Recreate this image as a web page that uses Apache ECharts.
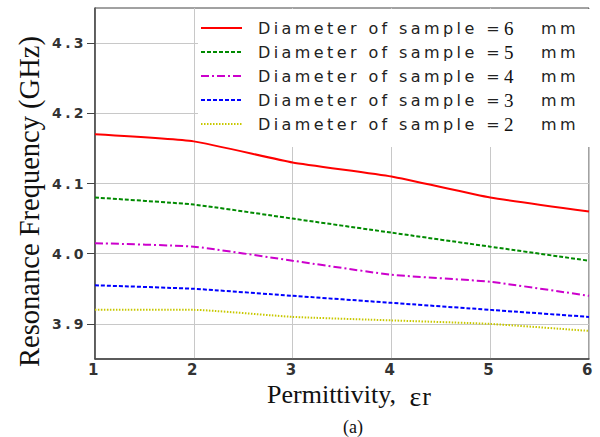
<!DOCTYPE html>
<html><head><meta charset="utf-8">
<script src="https://cdn.jsdelivr.net/npm/echarts@6/dist/echarts.min.js"></script>
<style>
html,body{margin:0;padding:0;background:#fff}
#chart{width:600px;height:437px}
/* wide, airy sans labels */
#chart text[style*="DejaVu"]{letter-spacing:3.4px}
</style></head><body><div id="chart"></div>
<script>
// Resonance frequency (GHz) against relative permittivity for several sample diameters
const permittivity = [1, 2, 3, 4, 5, 6];
const diameters = [6, 5, 4, 3, 2];
const freq6mm = [4.17, 4.16, 4.13, 4.11, 4.08, 4.06];
const freq5mm = [4.08, 4.07, 4.05, 4.03, 4.01, 3.99];
const freq4mm = [4.015, 4.01, 3.99, 3.97, 3.96, 3.94];
const freq3mm = [3.955, 3.95, 3.94, 3.93, 3.92, 3.91];
const freq2mm = [3.92, 3.92, 3.91, 3.905, 3.90, 3.89];
const yTicks = [3.9, 4.0, 4.1, 4.2, 4.3];

const seriesValues = [freq6mm, freq5mm, freq4mm, freq3mm, freq2mm];
const lineStyles = [
  { color: '#ff0000', width: 2, type: 'solid' },
  { color: '#008a00', width: 2, type: [4, 2] },
  { color: '#cc00cc', width: 2, type: [8, 3, 2, 3] },
  { color: '#0000ff', width: 2, type: [4, 2] },
  { color: '#c8c800', width: 2, type: [1.5, 1.5] }
];

const seriesName = d => 'Diameter of sample =' + d + ' mm';

const chart = echarts.init(document.getElementById('chart'), null, { renderer: 'svg' });
chart.setOption({
  animation: false,
  backgroundColor: '#fff',
  title: {
    text: '(a)', left: 338, top: 413,
    textStyle: { fontFamily: 'Liberation Serif', fontSize: 18, fontWeight: 'normal', color: '#111' }
  },
  grid: { left: 95, right: 11, top: 8, bottom: 78, show: true, borderColor: '#444', borderWidth: 1 },
  legend: {
    orient: 'vertical', left: 198, top: 9, z: 1,
    backgroundColor: '#fff', borderWidth: 0,
    padding: [9, 8, 13, 2],
    itemWidth: 41, itemHeight: 14, itemGap: 4,
    itemStyle: { opacity: 0 },
    data: diameters.map(seriesName),
    formatter: name => {
      const d = name.match(/=(\d+)/)[1];
      return '{a|Diameter of sample =}{n|' + d + '}{u|mm}';
    },
    textStyle: {
      lineHeight: 20,
      rich: {
        a: { fontFamily: 'DejaVu Sans', fontSize: 16, lineHeight: 20, color: '#222', width: 246, padding: [0, 0, 0, 11] },
        n: { fontFamily: 'Liberation Serif', fontSize: 19, lineHeight: 20, color: '#111', width: 37 },
        u: { fontFamily: 'DejaVu Sans', fontSize: 16, lineHeight: 20, color: '#222', width: 44 }
      }
    }
  },
  xAxis: {
    type: 'value', min: 1, max: 6, interval: 1,
    name: 'Permittivity, {e|ε}{r|r}', nameLocation: 'middle', nameGap: 19,
    nameTextStyle: {
      fontFamily: 'Liberation Serif', fontSize: 26, color: '#111', padding: [0, 0, 0, 14],
      rich: {
        e: { fontFamily: 'Liberation Serif', fontSize: 28, color: '#111', padding: [4, 1, 0, 7] },
        r: { fontFamily: 'Liberation Serif', fontSize: 26, color: '#111', padding: [4, 0, 0, 0] }
      }
    },
    axisLine: { lineStyle: { color: '#444', width: 1.5 } },
    axisTick: { show: false },
    axisLabel: { fontFamily: 'DejaVu Sans', fontSize: 15, fontWeight: 'bold', color: '#333', margin: 3 },
    splitLine: { lineStyle: { color: '#c8c8c8', width: 1 } }
  },
  yAxis: {
    type: 'value', min: 3.85, max: 4.35,
    name: 'Resonance Frequency (GHz)', nameLocation: 'middle', nameGap: 51,
    nameTextStyle: { fontFamily: 'Liberation Serif', fontSize: 28.5, color: '#111', padding: [0, 36, 0, 0] },
    axisLine: { show: true, lineStyle: { color: '#444', width: 1.5 } },
    axisTick: { show: true, length: 8, customValues: yTicks, lineStyle: { color: '#444' } },
    axisLabel: {
      fontFamily: 'DejaVu Sans', fontSize: 14, fontWeight: 'bold', color: '#333', margin: 8,
      customValues: yTicks, formatter: v => v.toFixed(1)
    },
    splitLine: { show: true, lineStyle: { color: '#c8c8c8', width: 1 } }
  },
  series: diameters.map((d, i) => ({
    name: seriesName(d),
    type: 'line',
    z: 3,
    smooth: 0.15,
    symbol: 'none',
    lineStyle: lineStyles[i],
    itemStyle: { color: lineStyles[i].color },
    data: permittivity.map((x, j) => [x, seriesValues[i][j]])
  }))
});
</script></body></html>
